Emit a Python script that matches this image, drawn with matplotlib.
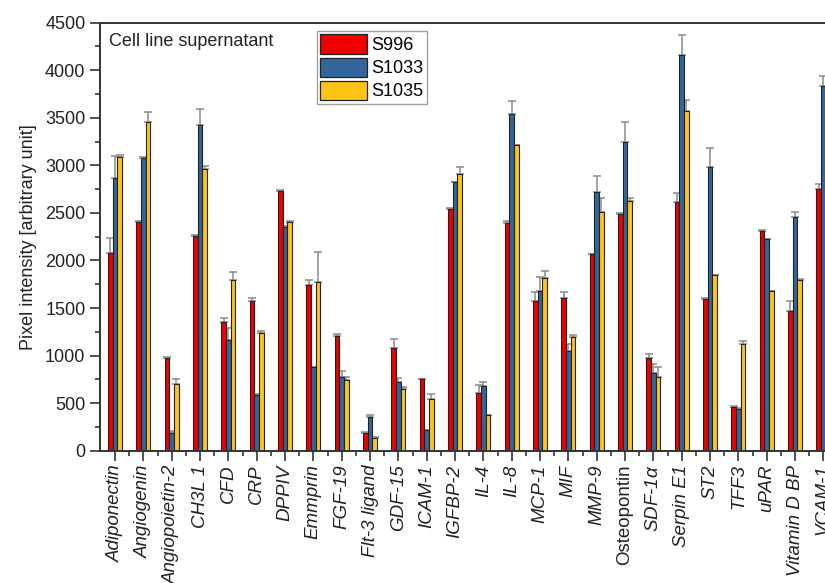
import numpy as np
import matplotlib
matplotlib.use("Agg")
import matplotlib.pyplot as plt
from matplotlib.patches import Patch

plt.rcParams["font.family"] = ["Liberation Sans", "DejaVu Sans"]
plt.rcParams["mathtext.fontset"] = "custom"
plt.rcParams["mathtext.it"] = "Liberation Sans:italic"

proteins = ["Adiponectin", "Angiogenin", "Angiopoietin-2", "CH3L 1", "CFD", "CRP",
            "DPPIV", "Emmprin", "FGF-19", "Flt-3 ligand", "GDF-15", "ICAM-1",
            "IGFBP-2", "IL-4", "IL-8", "MCP-1", "MIF", "MMP-9", "Osteopontin",
            r"SDF-1$\alpha$", "Serpin E1", "ST2", "TFF3", "uPAR", "Vitamin D BP", "VCAM-1"]
upright = ["Osteopontin"]

s996 = [2080, 2400, 975, 2255, 1355, 1578, 2735, 1745, 1205, 186, 1078, 755,
        2540, 603, 2395, 1575, 1610, 2065, 2485, 975, 2615, 1598, 459, 2313, 1472, 2748]
s996_err = [160, 10, 8, 8, 45, 28, 8, 48, 25, 14, 100, 4,
            12, 85, 17, 98, 55, 8, 14, 45, 98, 11, 7, 7, 102, 53]

s1033 = [2865, 3077, 183, 3420, 1160, 586, 2350, 877, 771, 358, 726, 218,
         2822, 677, 3540, 1682, 1045, 2717, 3246, 813, 4160, 2983, 442, 2226, 2454, 3838]
s1033_err = [233, 14, 21, 176, 133, 8, 12, 8, 70, 14, 42, 3,
             6, 49, 134, 147, 77, 174, 213, 95, 207, 203, 3, 3, 52, 102]

s1035 = [3085, 3453, 698, 2962, 1798, 1234, 2401, 1774, 747, 130, 645, 544,
         2909, 372, 3214, 1812, 1195, 2506, 2622, 775, 3568, 1844, 1118, 1679, 1795, 3200]
s1035_err = [20, 111, 59, 28, 78, 21, 14, 315, 31, 17, 28, 52,
             71, 3, 3, 77, 18, 154, 35, 108, 116, 3, 35, 3, 7, 50]

series = [("S996", s996, s996_err, "#ee0000"),
          ("S1033", s1033, s1033_err, "#33669a"),
          ("S1035", s1035, s1035_err, "#ffc516")]

fig = plt.figure(figsize=(8.25, 5.83), dpi=100)
ax = fig.add_axes([0.1212, 0.2269, 0.8909, 0.7342])

x = np.arange(len(proteins))
w = 0.166
for k, (name, vals, err, col) in enumerate(series):
    pos = x + (k - 1) * w
    vals = np.array(vals)
    err = np.array(err)
    ax.bar(pos, vals, width=w, color=col, edgecolor="#222222", linewidth=0.8, zorder=2)
    ax.errorbar(pos, vals, yerr=[np.zeros_like(err), err], fmt="none",
                ecolor="#8a8a8a", elinewidth=1.1, capsize=2.9, capthick=1.1, zorder=1)

ax.set_ylim(0, 4500)
ax.set_xlim(-0.53, 25.41)
ax.set_yticks(np.arange(0, 4501, 500))
ax.set_yticks(np.arange(250, 4500, 500), minor=True)
ax.set_xticks(x)
ax.set_xticks(x[:-1] + 0.5, minor=True)
ax.set_xticklabels(proteins, rotation=90, fontsize=13.5)
for lab in ax.get_xticklabels():
    lab.set_style("normal" if lab.get_text() in upright else "italic")

ax.tick_params(axis="both", which="major", direction="out", length=7, width=1.2,
               color="#333333", labelsize=13, labelcolor="#222222")
ax.tick_params(axis="x", which="major", labelsize=13.5, pad=3)
ax.tick_params(axis="both", which="minor", direction="out", length=3.5, width=1.2,
               color="#333333")

for side in ["left", "top", "bottom"]:
    ax.spines[side].set_color("#333333")
    ax.spines[side].set_linewidth(1.4)
ax.spines["right"].set_visible(False)

ax.set_ylabel("Pixel intensity [arbitrary unit]", fontsize=13, color="#222222", labelpad=6)
ax.text(0.012, 0.975, "Cell line supernatant", transform=ax.transAxes,
        fontsize=13, color="#222222", va="top", ha="left")

handles = [Patch(facecolor=c, edgecolor="#222222", linewidth=0.9) for _, _, _, c in series]
leg = ax.legend(handles, [s[0] for s in series], loc="upper left",
                bbox_to_anchor=(0.295, 0.981), fontsize=13, frameon=True,
                fancybox=False, edgecolor="#888888", handlelength=2.6,
                handleheight=1.25, labelspacing=0.2, borderpad=0.2,
                handletextpad=0.2, borderaxespad=0)
leg.get_frame().set_linewidth(1.0)

fig.savefig("out.png", dpi=100)
